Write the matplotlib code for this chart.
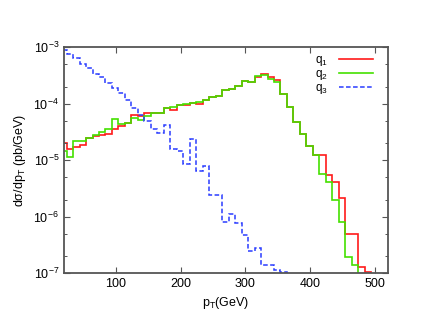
import numpy as np
import matplotlib
matplotlib.use("Agg")
import matplotlib.pyplot as plt
from matplotlib.ticker import LogLocator, NullFormatter

plt.rcParams['font.family'] = ['Liberation Sans', 'DejaVu Sans']
plt.rcParams['mathtext.default'] = 'regular'

# 10 GeV bins, lower edges start at 14 GeV
bin_width = 10
first_edge = 14

# q1 (red), q2 (green), q3 (blue dashed) - d sigma / d pT in pb/GeV
q1 = [1.97e-5, 1.57e-5, 1.68e-5, 1.84e-5, 2.5e-5, 2.7e-5, 2.8e-5, 2.9e-5,
      3.6e-5, 4.0e-5, 4.45e-5, 6.4e-5, 6.1e-5, 6.7e-5, 6.7e-5, 6.8e-5,
      8.2e-5, 7.7e-5, 9.4e-5, 9.6e-5, 1.02e-4, 1.0e-4, 1.15e-4, 1.32e-4,
      1.36e-4, 1.74e-4, 1.78e-4, 2.04e-4, 2.54e-4, 2.37e-4, 2.95e-4, 3.3e-4,
      2.9e-4, 2.6e-4, 1.46e-4, 8.8e-5, 4.8e-5, 2.9e-5, 1.8e-5, 1.23e-5,
      1.23e-5, 5.4e-6, 4.1e-6, 2.1e-6, 5.0e-7, 5.0e-7, 1.3e-7, 1.05e-7]

q2 = [1.45e-5, 1.15e-5, 2.17e-5, 2.17e-5, 2.5e-5, 2.8e-5, 3.1e-5, 3.6e-5,
      5.3e-5, 4.3e-5, 4.45e-5, 5.6e-5, 5.1e-5, 6.0e-5, 6.7e-5, 6.7e-5,
      8.2e-5, 8.8e-5, 9.4e-5, 9.8e-5, 1.02e-4, 1.05e-4, 1.15e-4, 1.32e-4,
      1.36e-4, 1.74e-4, 1.78e-4, 2.04e-4, 2.54e-4, 2.37e-4, 3.05e-4, 3.2e-4,
      2.75e-4, 2.45e-4, 1.46e-4, 8.8e-5, 4.8e-5, 2.9e-5, 1.8e-5, 1.23e-5,
      5.6e-6, 4.1e-6, 1.96e-6, 7.9e-7, 1.9e-7, 1.4e-7]

q3 = [8.85e-4, 7.7e-4, 6.3e-4, 5.0e-4, 4.2e-4, 3.4e-4, 2.95e-4, 2.3e-4,
      1.86e-4, 1.55e-4, 1.15e-4, 8.5e-5, 6.3e-5, 5.0e-5, 3.5e-5, 3.0e-5,
      4.2e-5, 1.6e-5, 1.46e-5, 8.5e-6, 2.35e-5, 6.4e-6, 7.8e-6, 2.4e-6,
      2.4e-6, 8.1e-7, 1.1e-6, 7.6e-7, 4.7e-7, 2.45e-7, 2.75e-7, 1.38e-7,
      1.38e-7, 1.15e-7, 1.04e-7]

x_ticks = [100, 200, 300, 400, 500]


def edges_for(values):
    return first_edge + bin_width * np.arange(len(values) + 1)


fig = plt.figure(figsize=(4.37, 3.27), dpi=100)
ax = fig.add_axes([0.1465, 0.165, 0.7415, 0.691])

ax.stairs(q1, edges_for(q1), color='#ff1a1a', lw=1.2, label='q$_1$')
ax.stairs(q2, edges_for(q2), color='#44e000', lw=1.2, label='q$_2$')
ax.stairs(q3, edges_for(q3), color='#2a3cff', lw=1.1, ls=(0, (3, 1.6)),
          label='q$_3$')

ax.set_yscale('log')
ax.set_xlim(20, 520)
ax.set_ylim(1e-7, 1e-3)
ax.set_xticks(x_ticks)
ax.yaxis.set_major_locator(LogLocator(base=10, numticks=10))
ax.yaxis.set_minor_locator(LogLocator(base=10, subs=[2, 5], numticks=10))
ax.yaxis.set_minor_formatter(NullFormatter())

ax.tick_params(which='both', direction='in', top=True, right=True,
               labelsize=9, color='#555555')
ax.tick_params(which='major', length=4, width=0.8)
ax.tick_params(which='minor', length=2.5, width=0.7)
for s in ax.spines.values():
    s.set_color('#555555')
    s.set_linewidth(1.3)

ax.set_xlabel('p$_T$(GeV)', fontsize=9, labelpad=4)
ax.set_ylabel('d\u03c3/dp$_T$ (pb/GeV)', fontsize=9)
ax.yaxis.set_label_coords(-0.112, 0.5)

ax.legend(loc='upper right', bbox_to_anchor=(0.975, 1.0), frameon=False,
          markerfirst=False, fontsize=8.5, handlelength=2.9, handletextpad=0.9,
          labelspacing=0.0, borderaxespad=0.2)

fig.savefig('out.png', dpi=100)
